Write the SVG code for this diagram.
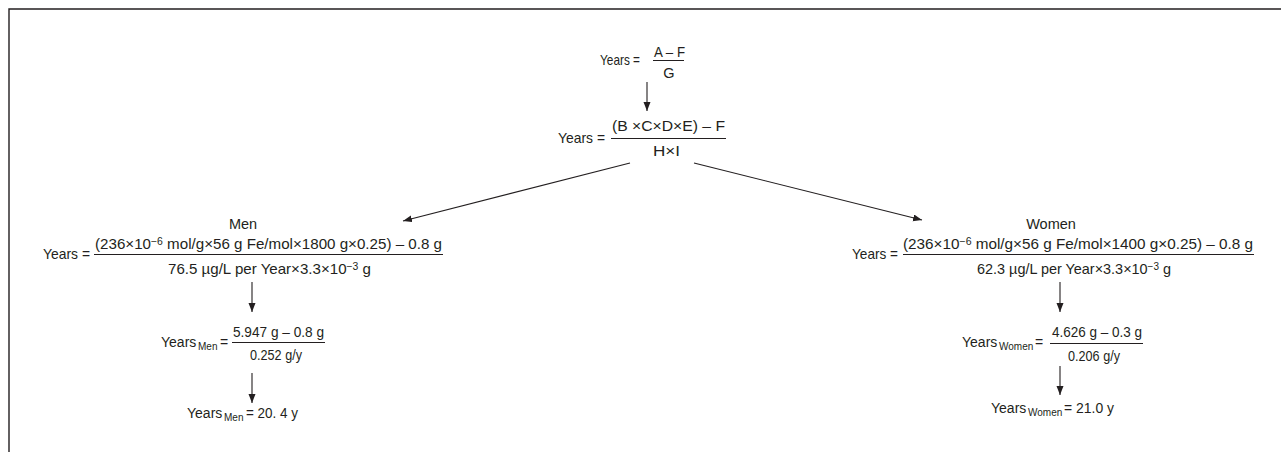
<svg xmlns="http://www.w3.org/2000/svg" width="1281" height="452" viewBox="0 0 1281 452">
<defs>
<style>
text{font-family:"Liberation Sans",Arial,sans-serif;font-size:14.5px;fill:#231f20}
.m{text-anchor:middle}
.s{font-size:10px}
.y{font-size:14px}
.b{font-size:10px}
.ln{stroke:#231f20;stroke-width:1.1;fill:none}
.fr{stroke:#231f20;stroke-width:1;fill:none}
</style>
<marker id="ah" markerUnits="userSpaceOnUse" markerWidth="10" markerHeight="8" refX="9" refY="3.5" orient="auto">
<path d="M0,0 L9,3.5 L0,7 Z" fill="#231f20"/>
</marker>
</defs>
<rect width="1281" height="452" fill="#fff"/>
<path d="M9,452 V9 H1281" stroke="#231f20" stroke-width="1.4" fill="none"/>

<g id="connectors">
<line class="ln" x1="647" y1="82" x2="647" y2="111" marker-end="url(#ah)"/>
<line class="ln" x1="630" y1="163" x2="403" y2="221" marker-end="url(#ah)"/>
<line class="ln" x1="694" y1="163" x2="922" y2="220" marker-end="url(#ah)"/>
<line class="ln" x1="252" y1="282" x2="252" y2="312" marker-end="url(#ah)"/>
<line class="ln" x1="252" y1="373" x2="252" y2="403" marker-end="url(#ah)"/>
<line class="ln" x1="1060" y1="282" x2="1060" y2="312" marker-end="url(#ah)"/>
<line class="ln" x1="1060" y1="366" x2="1060" y2="395" marker-end="url(#ah)"/>
</g>

<g id="eq-top">
<text x="600" y="65" textLength="40" lengthAdjust="spacingAndGlyphs">Years =</text>
<text x="654" y="57" textLength="31" lengthAdjust="spacingAndGlyphs">A – F</text>
<line class="fr" x1="653" y1="60.5" x2="684" y2="60.5"/>
<text class="m" x="669" y="78">G</text>
</g>

<g id="eq-general">
<text x="558" y="143" textLength="47" lengthAdjust="spacingAndGlyphs">Years =</text>
<text x="612" y="131" textLength="113" lengthAdjust="spacingAndGlyphs">(B ×C×D×E) – F</text>
<line class="fr" x1="611" y1="138.5" x2="726" y2="138.5"/>
<text x="653" y="156" textLength="27" lengthAdjust="spacingAndGlyphs">H×I</text>
</g>

<g id="men-eq">
<text class="m" x="243" y="229">Men</text>
<text x="43" y="259" textLength="47" lengthAdjust="spacingAndGlyphs">Years =</text>
<text x="95" y="249" textLength="347" lengthAdjust="spacingAndGlyphs">(236×10<tspan class="s" dy="-4">−6</tspan><tspan dy="4"> mol/g×56 g Fe/mol×1800 g×0.25) – 0.8 g</tspan></text>
<line class="fr" x1="94" y1="254.5" x2="443" y2="254.5"/>
<text x="168" y="274" textLength="203" lengthAdjust="spacingAndGlyphs">76.5 µg/L per Year×3.3×10<tspan class="s" dy="-4">−3</tspan><tspan dy="4"> g</tspan></text>
</g>

<g id="men-step">
<text class="y" x="161" y="347">Years</text>
<text class="b" x="198" y="350">Men</text>
<text class="y" x="220" y="347">=</text>
<text x="233" y="337" textLength="91" lengthAdjust="spacingAndGlyphs">5.947 g – 0.8 g</text>
<line class="fr" x1="232" y1="342.5" x2="325" y2="342.5"/>
<text x="250" y="360" textLength="52" lengthAdjust="spacingAndGlyphs">0.252 g/y</text>
</g>

<g id="men-result">
<text class="y" x="187" y="418">Years</text>
<text class="b" x="224" y="421">Men</text>
<text class="y" x="246" y="418" textLength="52" lengthAdjust="spacingAndGlyphs">= 20. 4 y</text>
</g>

<g id="women-eq">
<text class="m" x="1051" y="229">Women</text>
<text x="852" y="259" textLength="46" lengthAdjust="spacingAndGlyphs">Years =</text>
<text x="903" y="249" textLength="350" lengthAdjust="spacingAndGlyphs">(236×10<tspan class="s" dy="-4">−6</tspan><tspan dy="4"> mol/g×56 g Fe/mol×1400 g×0.25) – 0.8 g</tspan></text>
<line class="fr" x1="903" y1="254.5" x2="1254" y2="254.5"/>
<text x="977" y="274" textLength="194" lengthAdjust="spacingAndGlyphs">62.3 µg/L per Year×3.3×10<tspan class="s" dy="-4">−3</tspan><tspan dy="4"> g</tspan></text>
</g>

<g id="women-step">
<text class="y" x="962" y="347">Years</text>
<text class="b" x="999" y="350">Women</text>
<text class="y" x="1035" y="347">=</text>
<text x="1052" y="337" textLength="90" lengthAdjust="spacingAndGlyphs">4.626 g – 0.3 g</text>
<line class="fr" x1="1050" y1="343.5" x2="1143" y2="343.5"/>
<text x="1068" y="361" textLength="52" lengthAdjust="spacingAndGlyphs">0.206 g/y</text>
</g>

<g id="women-result">
<text class="y" x="991" y="413">Years</text>
<text class="b" x="1028" y="416">Women</text>
<text class="y" x="1064" y="413" textLength="50" lengthAdjust="spacingAndGlyphs">= 21.0 y</text>
</g>
</svg>
